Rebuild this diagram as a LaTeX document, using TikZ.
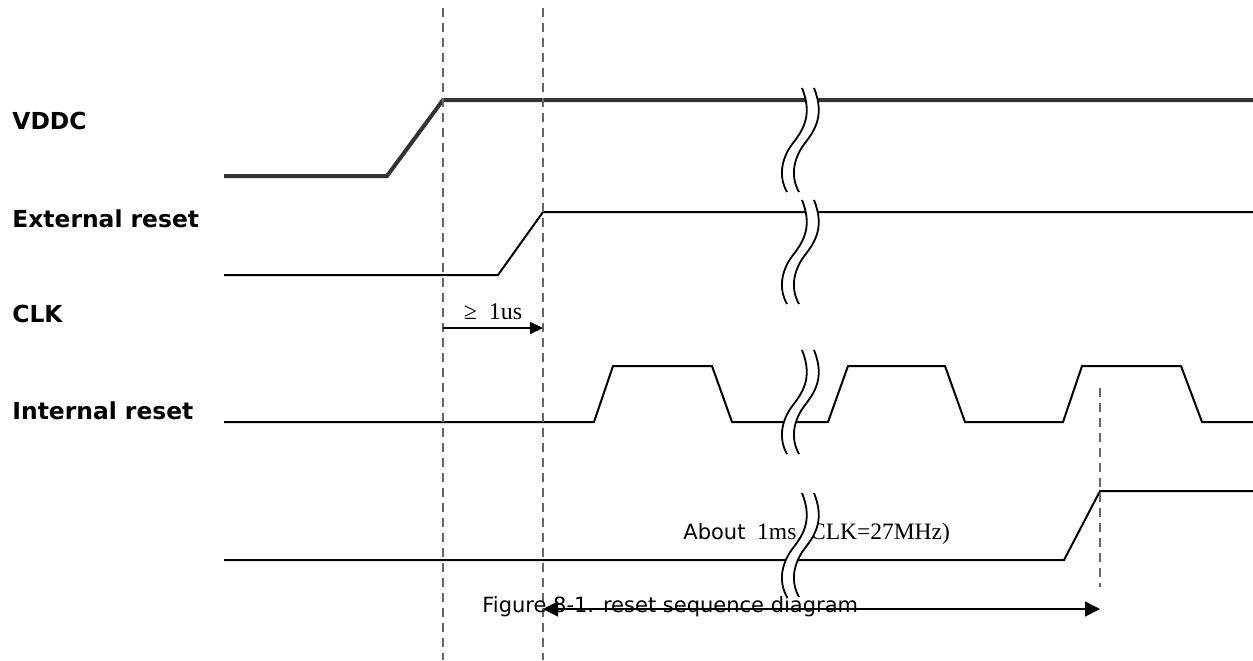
\documentclass[tikz,border=0pt]{standalone}
\usepackage{fontspec}
\setmainfont{Liberation Serif}
\newfontfamily\tahomafont{DejaVu Sans}
\usetikzlibrary{arrows.meta}
\definecolor{vddgray}{HTML}{333333}
\definecolor{guidegray}{HTML}{666666}
\tikzset{
  signal/.style={line width=1pt, line join=miter},
  guide/.style={guidegray, line width=1pt, dash pattern=on 4.5pt off 3pt},
  siglabel/.style={anchor=base west, inner sep=0pt,
    font=\tahomafont\bfseries\fontsize{11.7}{14}\selectfont},
  cutline/.style={line width=0.9pt},
  bigtip/.tip={Triangle[length=7.5pt, width=7.5pt]},
  smalltip/.tip={Triangle[length=6.5pt, width=6pt]}
}
\begin{document}
\begin{tikzpicture}[x=0.5pt, y=-0.5pt]
  \useasboundingbox (0, 0) rectangle (1253, 660);

  % Signal names
  \node [siglabel] (vddc) at (12, 129) {VDDC};
  \node [siglabel] (extrst) at (12, 227) {External reset};
  \node [siglabel] (clk) at (12, 322) {CLK};
  \node [siglabel] (intrst) at (12, 419) {Internal reset};

  % VDDC
  \draw [signal, vddgray, line width=2pt] (224, 176) -- (387, 176)
    -- (443, 100) -- (1253, 100);

  % External reset
  \draw [signal] (224, 275) -- (498, 275) -- (543, 212) -- (1253, 212);

  % CLK
  \draw [signal] (224, 422) -- (594, 422) -- (613, 366) -- (712, 366)
    -- (732, 422) -- (828, 422) -- (848, 366) -- (945, 366) -- (965, 422)
    -- (1063, 422) -- (1082, 366) -- (1181, 366) -- (1202, 422)
    -- (1253, 422);

  % Internal reset
  \draw [signal] (224, 560) -- (1064, 560) -- (1100, 491) -- (1253, 491);

  % Time marks
  \coordinate (vddup) at (443, 8);
  \coordinate (vddend) at (443, 660);
  \coordinate (extup) at (543, 8);
  \coordinate (extend) at (543, 660);
  \coordinate (intup) at (1100, 388);
  \coordinate (intend) at (1100, 587);
  \draw [guide] (vddup) -- (vddend);
  \draw [guide] (extup) -- (extend);
  \draw [guide] (intup) -- (intend);

  % Delay after VDDC
  \coordinate (dlya) at (443, 328);
  \coordinate (dlyb) at (543, 328);
  \draw [line width=0.8pt, -smalltip] (dlya) -- (dlyb);
  \node [inner sep=0pt, font=\fontsize{12}{14}\selectfont] (dlytext)
    at (493, 312) {≥\ \ 1us};

  % Reset length
  \node [anchor=base west, inner sep=0pt, font=\fontsize{11.75}{14}\selectfont]
    (about) at (683, 539) {{\tahomafont\fontsize{10.5}{12}\selectfont About}\ \
    1ms (CLK=27MHz)};
  \coordinate (rsta) at (543, 609);
  \coordinate (rstb) at (1100, 609);
  \draw [line width=0.8pt, bigtip-bigtip] (rsta) -- (rstb);

  % Breaks
  \foreach \y in {88, 200, 350, 493} {
    \begin{scope}[shift={(0, \y)}]
      \fill [white] (802, 0) .. controls (812, 25) and (805, 40) .. (793, 55)
        .. controls (780, 72) and (779, 90) .. (787, 104)
        -- (799, 104) .. controls (791, 90) and (792, 72) .. (805, 55)
        .. controls (817, 40) and (824, 25) .. (814, 0) -- cycle;
      \draw [cutline] (802, 0) .. controls (812, 25) and (805, 40) .. (793, 55)
        .. controls (780, 72) and (779, 90) .. (787, 104);
      \draw [cutline] (814, 0) .. controls (824, 25) and (817, 40) .. (805, 55)
        .. controls (792, 72) and (791, 90) .. (799, 104);
    \end{scope}
  }

  % Caption
  \node [anchor=base west, inner sep=0pt,
    font=\tahomafont\fontsize{10.5}{13}\selectfont] (caption)
    at (482, 612) {Figure 8-1. reset sequence diagram};
\end{tikzpicture}
\end{document}
